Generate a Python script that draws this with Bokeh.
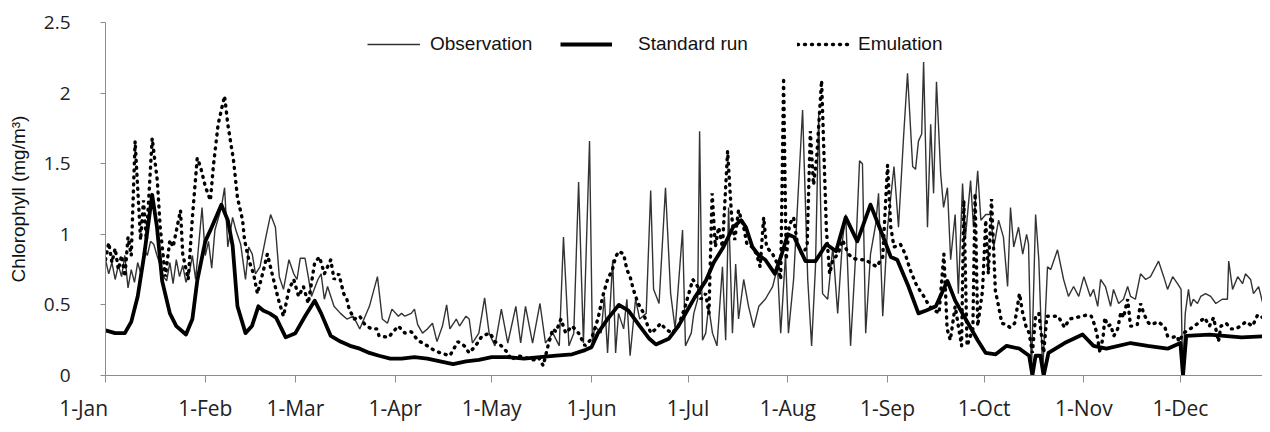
from bokeh.plotting import figure
from bokeh.models import Range1d, FixedTicker, Legend, LegendItem
from bokeh.embed import file_html
from bokeh.resources import INLINE

month_days = [0, 31, 59, 90, 120, 151, 181, 212, 243, 273, 304, 334]
month_labels = ["1-Jan", "1-Feb", "1-Mar", "1-Apr", "1-May", "1-Jun",
                "1-Jul", "1-Aug", "1-Sep", "1-Oct", "1-Nov", "1-Dec"]

obs_day = [0, 1, 2, 3, 4, 5, 6, 7, 8, 9, 10, 11, 12, 13, 14, 15, 16, 17, 18, 19, 20, 21, 22, 23, 24, 25, 26, 27, 28,
           30, 31, 32, 33, 34, 36, 37, 38, 39.5, 40.5, 42, 43.5, 44.5, 45.6, 46.6, 48, 50, 51.3, 52.8, 54, 55.3, 57, 58.5,
           59.5, 60.5, 62, 63, 64, 66, 67, 68, 69, 71, 73, 75, 77, 79, 82, 84.5, 86, 87.6,
           89, 91, 92, 93, 95, 96, 97, 98.5, 100, 101.6, 103, 104.7, 106, 107, 109, 110, 112, 113, 114, 116, 117.8, 119.2,
           121, 123, 125, 127.5, 129, 130.5, 132.7, 135, 136.7, 139, 141, 142.3, 144, 145.5, 147, 148.5, 150.4,
           151.3, 152, 154, 155, 156, 157.6, 158.5, 159.4, 161, 162, 163, 164.7, 166, 168, 169.4, 170.3, 172, 174, 175.6, 177, 179.3, 180.2,
           182, 182.8, 184, 184.6, 185.5, 186.5, 187.4, 188.6, 190, 191.7, 192.7, 193.6, 194.8, 195.8, 196.7, 198.3, 199.8, 201.4, 203, 205, 207.3, 208.8, 209.8, 211.3, 212.2,
           213.8, 216.6, 218.2, 219.4, 220.6, 221.6, 222.8, 224.4, 226, 227.5, 229, 230, 231.5, 233, 234.3, 235.2, 236.2, 237.7, 239.3, 240.2, 241.5, 243,
           245, 246.4, 248, 249.2, 250.8, 251.7, 252.6, 253.6, 254.2, 255.4, 256.4, 257.3, 258.2, 259.5, 260.4, 261.6, 262.6, 264, 265, 266.3, 267.2, 268.8, 269.7, 271, 272, 273.5,
           275, 276, 277.5, 279, 280.3, 281.2, 282.2, 283.7, 285, 286.2, 286.8, 287.7, 289, 290, 291.2, 292.7, 293.7, 295.8, 297.7, 299.2, 300.8, 302.4, 304,
           306, 307, 308.3, 309.2, 310.7, 312.3, 313.2, 314.8, 316.3, 317.6, 318.5, 320, 321.6, 323.2, 324.7, 326.3, 327.2, 328.8, 330, 331.6, 333.1,
           334.2, 334.7, 335.5, 336.5, 337.2, 338, 339.3, 340.3, 341.8, 343.4, 345, 347, 348.6, 349, 350.2, 351.8, 353.3, 354.2, 355.8, 356.7, 358.3, 359.6, 361.2, 362]
obs_val = [0.82, 0.72, 0.80, 0.68, 0.78, 0.70, 0.85, 0.62, 0.75, 0.66, 0.80, 0.72, 0.90, 0.85, 0.95, 0.93, 0.85, 0.78, 0.70, 0.67, 0.80, 0.65, 0.82, 0.70, 0.78, 0.66, 0.72, 0.85, 0.68,
           1.19, 0.85, 0.95, 0.76, 1.03, 1.19, 1.33, 0.91, 1.12, 1.03, 0.93, 0.68, 0.91, 0.86, 0.72, 0.77, 1.00, 1.14, 1.05, 0.70, 0.61, 0.82, 0.72,
           0.68, 0.83, 0.83, 0.70, 0.56, 0.68, 0.72, 0.54, 0.63, 0.49, 0.44, 0.40, 0.42, 0.33, 0.49, 0.70, 0.40, 0.37,
           0.47, 0.42, 0.44, 0.42, 0.44, 0.47, 0.36, 0.30, 0.33, 0.37, 0.24, 0.35, 0.50, 0.33, 0.40, 0.35, 0.42, 0.40, 0.23, 0.30, 0.55, 0.30,
           0.21, 0.47, 0.23, 0.49, 0.23, 0.49, 0.23, 0.51, 0.23, 0.30, 0.21, 0.98, 0.21, 0.30, 1.37, 0.23, 1.66,
           0.22, 0.35, 0.30, 0.56, 0.16, 0.82, 0.16, 0.44, 0.33, 0.54, 0.14, 0.54, 0.40, 0.44, 1.31, 0.61, 0.51, 1.33, 0.58, 0.33, 1.03, 0.21,
           0.30, 0.44, 0.54, 1.73, 0.25, 0.30, 0.49, 0.30, 0.21, 0.77, 0.25, 1.19, 0.30, 0.79, 0.40, 0.68, 0.49, 0.34, 0.49, 0.54, 0.63, 0.77, 0.30, 0.86, 0.30,
           0.68, 1.88, 0.68, 0.21, 0.77, 1.85, 0.58, 0.54, 0.91, 0.44, 0.96, 1.14, 0.21, 0.82, 1.52, 1.50, 0.30, 0.86, 1.07, 1.29, 0.42, 1.05,
           1.48, 1.05, 1.70, 2.14, 1.48, 1.46, 1.66, 1.71, 2.22, 1.05, 1.78, 1.29, 2.08, 1.43, 1.19, 1.33, 0.82, 1.14, 0.58, 1.36, 0.98, 1.38, 1.05, 1.45, 1.10, 1.14,
           1.14, 0.91, 1.10, 0.98, 0.63, 1.19, 0.91, 1.05, 0.86, 1.00, 0.93, 0.02, 1.14, 0.82, 0.02, 0.77, 0.75, 0.89, 0.68, 0.56, 0.63, 0.56, 0.70,
           0.56, 0.61, 0.49, 0.68, 0.63, 0.49, 0.61, 0.51, 0.54, 0.63, 0.56, 0.54, 0.72, 0.68, 0.70, 0.77, 0.81, 0.70, 0.61, 0.70, 0.65,
           0.61, 0.01, 0.44, 0.61, 0.49, 0.54, 0.51, 0.56, 0.58, 0.56, 0.51, 0.54, 0.54, 0.81, 0.61, 0.70, 0.65, 0.72, 0.68, 0.58, 0.63, 0.51, 0.56, 0.58]

std_day = [0, 3, 6, 8, 10, 12, 14.5, 16, 17.6, 20, 22, 25, 27, 28.5, 31, 33, 36, 38, 39.5, 41, 43.5, 45.5, 47.5, 49, 51, 53, 56, 59,
           62, 65, 67, 70, 73, 76, 79, 82, 85, 88.5, 92, 96, 100, 104, 108, 112, 116, 120, 125, 130, 135, 140, 145, 149, 151,
           153, 156, 159.5, 162.5, 166, 169, 171, 175, 178, 180, 183, 186.5, 189, 192, 195, 197.5, 199, 201, 203, 205, 208, 210, 212,
           214, 217.5, 220.6, 224, 227, 230, 233.6, 237.7, 241, 244, 246, 249.5, 252.6, 255, 258, 261.6, 264, 268, 271, 273.5,
           276.6, 280, 284, 287, 288, 289, 290.5, 291.5, 293, 298, 303.6, 307, 311, 318.5, 323.8, 330, 334, 334.8, 335.8, 343, 353, 362]
std_val = [0.32, 0.30, 0.30, 0.38, 0.56, 0.85, 1.28, 1.05, 0.67, 0.44, 0.35, 0.29, 0.40, 0.67, 0.95, 1.05, 1.21, 1.10, 0.92, 0.49, 0.30, 0.35, 0.49, 0.46, 0.44, 0.41, 0.27, 0.30,
           0.42, 0.53, 0.44, 0.28, 0.24, 0.21, 0.19, 0.16, 0.14, 0.12, 0.12, 0.13, 0.12, 0.10, 0.08, 0.10, 0.11, 0.13, 0.13, 0.12, 0.13, 0.14, 0.15, 0.18, 0.20,
           0.30, 0.40, 0.50, 0.46, 0.35, 0.26, 0.22, 0.26, 0.35, 0.43, 0.55, 0.67, 0.80, 0.91, 1.05, 1.10, 1.05, 0.91, 0.85, 0.82, 0.72, 0.85, 1.00,
           0.98, 0.81, 0.81, 0.93, 0.88, 1.12, 0.95, 1.21, 1.02, 0.84, 0.82, 0.63, 0.44, 0.46, 0.49, 0.67, 0.53, 0.37, 0.25, 0.16,
           0.15, 0.21, 0.19, 0.14, 0.0, 0.14, 0.14, 0.0, 0.16, 0.23, 0.29, 0.21, 0.19, 0.23, 0.21, 0.19, 0.23, 0.0, 0.28, 0.29, 0.27, 0.28]

emu_day = [0, 1, 2, 3, 4, 5, 6, 7, 8, 9.2, 10.9, 11.8, 12.7, 14.5, 16.1, 17, 18.6, 20, 21, 23.3, 24, 25.7, 27, 28.5,
           29.5, 31, 32.6, 33.5, 35, 37, 38, 39.8, 41, 42.6, 43.2, 44.5, 46, 47.2, 48.8, 50.3, 52.2, 53.7, 55.3, 57, 58.5,
           60, 61.5, 63, 65, 66.5, 68, 70, 71, 72.5, 74, 75, 75.7, 77.3, 79, 80.6, 82.6, 84.3, 85, 88,
           89, 91, 93, 95, 97, 100, 102, 104, 107, 109.5, 111.5, 113, 115, 117, 119.5,
           121, 123, 125, 126, 128, 130, 133, 134.5, 136, 137.5, 139, 140, 141.5, 143, 145, 147, 149,
           151, 153, 154.5, 156, 157.5, 158.5, 159.5, 161, 162, 163, 164, 165.5, 167, 168.5, 169.5, 171, 172.5, 174, 176, 178, 180,
           182.5, 184, 185, 186.5, 187.5, 188.5, 189.5, 190.5, 191.7, 193.3, 194.5, 195.5, 196.7, 198.3, 199.3, 201, 202.3, 203.4, 204.5, 205.4, 207.3, 208.8, 209.8, 210.7, 211.5,
           212.5, 213.8, 215, 216.4, 218, 219, 220, 221, 222.5, 224, 225, 226, 227.6, 229, 230.8, 232.3, 234, 236, 238.2, 239.6, 241.5, 243,
           244, 245, 247, 248.5, 250, 251.8, 252.8, 254.3, 256, 259, 260.5, 261.5, 262.5, 264, 266, 266.7, 267.7, 269.5, 270.2, 271, 272.5, 273.5,
           274.3, 275.3, 276.5, 277.5, 278.5, 280, 281, 282.5, 284, 285, 286, 287, 288, 289, 290, 291.5, 292.5, 294, 296, 298, 299.5, 301.5, 303.5,
           305, 306.3, 307.3, 308, 309, 310, 310.5, 311.4, 312.3, 313.3, 314.5, 315.5, 316.3, 317.6, 318.5, 319.5, 320.6, 321.6, 322.6, 323.8, 324.7, 327.2, 329.2, 330, 331.6, 333,
           333.5, 335, 337, 339.5, 341.5, 343, 344.3, 345.8, 346.6, 348.2, 349.7, 351.2, 352.7, 354.3, 356.4, 358, 359.6, 361.2, 362]
emu_val = [0.82, 0.94, 0.80, 0.90, 0.75, 0.85, 0.70, 0.98, 0.85, 1.66, 0.96, 1.24, 0.96, 1.68, 1.38, 1.05, 0.70, 0.96, 0.91, 1.17, 0.86, 0.68, 1.12, 1.54,
           1.48, 1.34, 1.24, 1.48, 1.78, 1.98, 1.78, 1.52, 1.26, 1.10, 0.96, 0.82, 0.72, 0.58, 0.72, 0.86, 0.68, 0.54, 0.42, 0.61, 0.68,
           0.56, 0.63, 0.51, 0.80, 0.84, 0.72, 0.82, 0.68, 0.72, 0.58, 0.54, 0.47, 0.40, 0.42, 0.36, 0.33, 0.33, 0.28, 0.27,
           0.30, 0.35, 0.30, 0.31, 0.25, 0.21, 0.18, 0.16, 0.14, 0.24, 0.21, 0.16, 0.21, 0.28, 0.30,
           0.24, 0.21, 0.16, 0.11, 0.14, 0.13, 0.11, 0.13, 0.07, 0.21, 0.33, 0.31, 0.40, 0.30, 0.35, 0.30, 0.21,
           0.26, 0.40, 0.56, 0.68, 0.75, 0.84, 0.88, 0.86, 0.75, 0.70, 0.61, 0.51, 0.45, 0.35, 0.30, 0.33, 0.37, 0.33, 0.30, 0.35, 0.48,
           0.68, 0.63, 0.54, 0.58, 0.44, 1.29, 0.91, 1.05, 0.91, 1.59, 1.14, 0.96, 1.17, 1.05, 0.93, 0.91, 0.86, 0.77, 1.12, 0.91, 0.86, 0.79, 0.68, 2.11, 0.82,
           1.07, 1.12, 0.93, 0.86, 0.91, 1.73, 1.35, 1.55, 2.09, 1.03, 0.72, 0.82, 0.86, 0.96, 0.86, 0.83, 0.82, 0.82, 0.79, 0.77, 0.84, 1.49,
           1.05, 0.91, 0.93, 0.86, 0.75, 0.65, 0.61, 0.56, 0.49, 0.44, 0.86, 0.33, 0.25, 0.49, 0.21, 1.24, 0.21, 0.33, 1.29, 0.35, 0.60, 1.10,
           0.72, 1.25, 0.60, 0.49, 0.37, 0.36, 0.34, 0.37, 0.58, 0.44, 0.35, 0.30, 0.16, 0.42, 0.44, 0.16, 0.42, 0.42, 0.42, 0.34, 0.40, 0.41, 0.42,
           0.43, 0.42, 0.36, 0.30, 0.16, 0.28, 0.41, 0.35, 0.36, 0.28, 0.33, 0.45, 0.41, 0.54, 0.35, 0.35, 0.36, 0.51, 0.44, 0.38, 0.36, 0.38, 0.34, 0.28, 0.27, 0.28,
           0.24, 0.30, 0.33, 0.37, 0.41, 0.35, 0.41, 0.24, 0.35, 0.37, 0.33, 0.33, 0.35, 0.38, 0.35, 0.43, 0.41, 0.47, 0.37]

y_ticks = [0, 0.5, 1, 1.5, 2, 2.5]
y_labels = ["0", "0.5", "1", "1.5", "2", "2.5"]

p = figure(width=1262, height=424, output_backend="svg", toolbar_location=None,
           x_range=Range1d(0, 359.5), y_range=Range1d(0, 2.5),
           min_border_left=105, min_border_right=0, min_border_top=22, min_border_bottom=46)
p.outline_line_color = None
p.grid.visible = False
p.background_fill_color = "white"

axis_col = "#8c8c8c"
x_overrides = {d: l for d, l in zip(month_days, month_labels)}
x_overrides[0] = "1-Jan" + "\u00a0" * 8   # first label sits left of the axis, as in the source
p.xaxis.ticker = FixedTicker(ticks=month_days)
p.xaxis.major_label_overrides = x_overrides
p.xaxis.minor_tick_line_color = None
p.xaxis.axis_line_color = axis_col
p.xaxis.major_tick_line_color = axis_col
p.xaxis.major_tick_out = 7
p.xaxis.major_tick_in = 0
p.xaxis.major_label_standoff = 11
p.xaxis.major_label_text_font = "Open Sans"
p.xaxis.major_label_text_font_size = "21px"
p.xaxis.major_label_text_color = "#222222"

p.yaxis.ticker = FixedTicker(ticks=y_ticks)
p.yaxis.major_label_overrides = {t: l for t, l in zip(y_ticks, y_labels)}
p.yaxis.minor_tick_line_color = None
p.yaxis.axis_line_color = axis_col
p.yaxis.major_tick_line_color = axis_col
p.yaxis.major_tick_out = 5
p.yaxis.major_tick_in = 0
p.yaxis.major_label_standoff = 30
p.yaxis.major_label_text_font = "Open Sans"
p.yaxis.major_label_text_font_size = "19px"
p.yaxis.major_label_text_color = "#222222"
p.yaxis.axis_label = "Chlorophyll (mg/m³)"
p.yaxis.axis_label_text_font = "Liberation Sans"
p.yaxis.axis_label_text_font_size = "19px"
p.yaxis.axis_label_text_font_style = "normal"
p.yaxis.axis_label_text_color = "#111111"
p.yaxis.axis_label_standoff = 12

r_obs = p.line(obs_day, obs_val, line_color="#333333", line_width=1.4)
r_std = p.line(std_day, std_val, line_color="black", line_width=3.8, line_join="round")
r_emu = p.line(emu_day, emu_val, line_color="black", line_width=3.4,
               line_dash="1 6", line_cap="round")

legend_items = [("Observation", r_obs, 262, 53, 10),
                ("Standard run", r_std, 455, 52, 26),
                ("Emulation", r_emu, 692, 53, 8)]
for label, rend, lx, gw, so in legend_items:
    lg = Legend(items=[LegendItem(label=label, renderers=[rend])],
                orientation="horizontal", location=(lx, 320),
                glyph_width=gw, glyph_height=20, label_standoff=so, spacing=0,
                padding=12, margin=0, border_line_color=None, background_fill_alpha=0,
                label_text_font="Liberation Sans", label_text_font_size="19px",
                label_text_color="#111111")
    p.add_layout(lg, "center")

open("out.html", "w").write(file_html(p, INLINE))
